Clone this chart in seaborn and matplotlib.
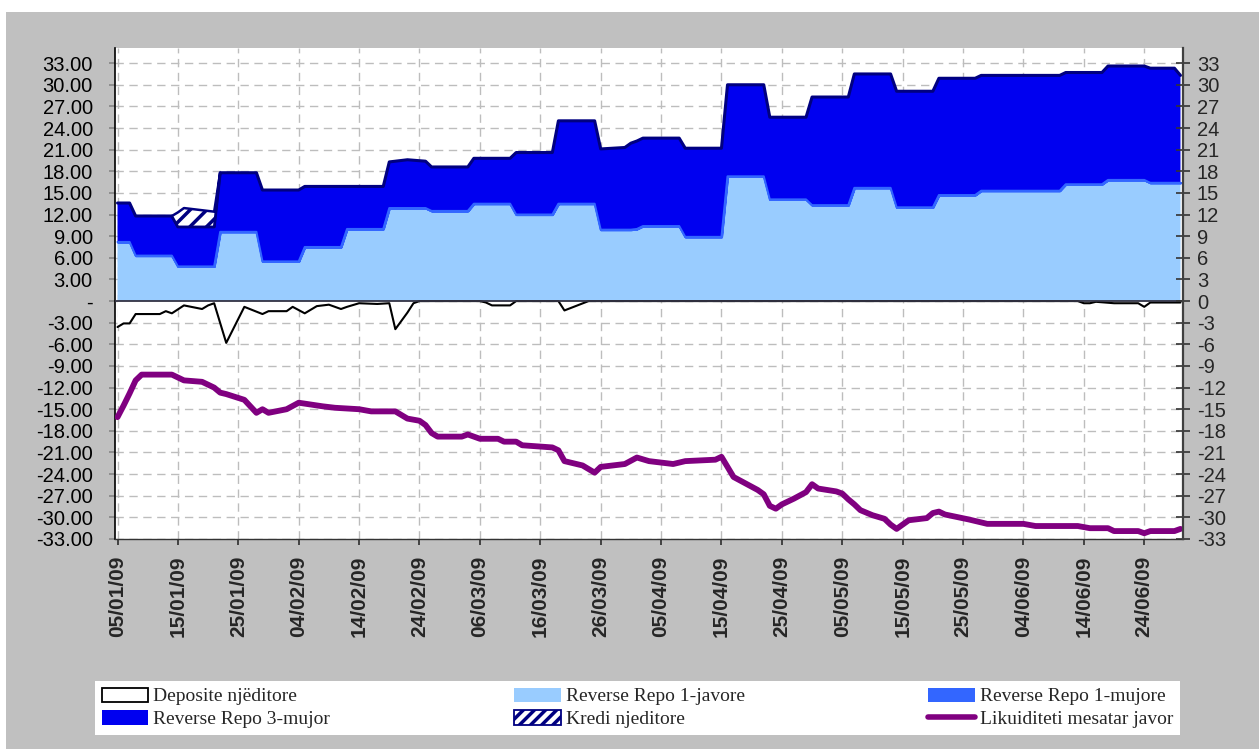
import numpy as np
import pandas as pd
import matplotlib
matplotlib.use("Agg")
import matplotlib.pyplot as plt
import matplotlib.dates as mdates
from matplotlib.patches import Patch, Rectangle
from matplotlib.lines import Line2D
import seaborn as sns

# --- data (billion lek) ---
repo_dates = ["2009-01-05", "2009-01-07", "2009-01-08", "2009-01-14", "2009-01-15", "2009-01-16",
              "2009-01-21", "2009-01-22", "2009-01-28", "2009-01-29", "2009-02-04", "2009-02-05",
              "2009-02-11", "2009-02-12", "2009-02-18", "2009-02-19", "2009-02-22", "2009-02-25",
              "2009-02-26", "2009-03-04", "2009-03-05", "2009-03-11", "2009-03-12", "2009-03-18",
              "2009-03-19", "2009-03-25", "2009-03-26", "2009-03-30", "2009-03-31", "2009-04-01",
              "2009-04-02", "2009-04-08", "2009-04-09", "2009-04-15", "2009-04-16", "2009-04-22",
              "2009-04-23", "2009-04-29", "2009-04-30", "2009-05-06", "2009-05-07", "2009-05-13",
              "2009-05-14", "2009-05-20", "2009-05-21", "2009-05-27", "2009-05-28", "2009-06-10",
              "2009-06-11", "2009-06-17", "2009-06-18", "2009-06-24", "2009-06-25", "2009-06-29",
              "2009-06-30"]
rr_1javore = [8.2, 8.2, 6.3, 6.3, 4.8, 4.8, 4.8, 9.6, 9.6, 5.5, 5.5, 7.5, 7.5, 10.0, 10.0, 12.9,
              12.9, 12.9, 12.5, 12.5, 13.5, 13.5, 12.0, 12.0, 13.5, 13.5, 9.9, 9.9, 9.9, 10.0,
              10.4, 10.4, 8.9, 8.9, 17.3, 17.3, 14.1, 14.1, 13.3, 13.3, 15.7, 15.7, 13.0, 13.0,
              14.7, 14.7, 15.3, 15.3, 16.2, 16.2, 16.8, 16.8, 16.4, 16.4, 16.4]
rr_1mujore = [0.0] * len(repo_dates)
rr_3mujor = [5.4, 5.4, 5.5, 5.5, 5.5, 5.5, 5.5, 8.2, 8.2, 9.9, 9.9, 8.4, 8.4, 5.9, 5.9, 6.4,
             6.7, 6.5, 6.1, 6.1, 6.3, 6.3, 8.6, 8.6, 11.5, 11.5, 11.2, 11.4, 12.0, 12.2,
             12.2, 12.2, 12.3, 12.3, 12.7, 12.7, 11.4, 11.4, 15.0, 15.0, 15.8, 15.8, 16.1, 16.1,
             16.2, 16.2, 16.0, 16.0, 15.5, 15.5, 15.8, 15.8, 15.9, 15.9, 14.9]
kredi = [0, 0, 0, 0, 2.0, 2.6, 2.1] + [0] * (len(repo_dates) - 7)

dep_dates = ["2009-01-05", "2009-01-06", "2009-01-07", "2009-01-08", "2009-01-12", "2009-01-13",
             "2009-01-14", "2009-01-16", "2009-01-19", "2009-01-20", "2009-01-21", "2009-01-23",
             "2009-01-26", "2009-01-29", "2009-01-30", "2009-02-02", "2009-02-03", "2009-02-05",
             "2009-02-07", "2009-02-09", "2009-02-11", "2009-02-12", "2009-02-14", "2009-02-17",
             "2009-02-19", "2009-02-20", "2009-02-22", "2009-02-23", "2009-02-24", "2009-03-06",
             "2009-03-07", "2009-03-08", "2009-03-11", "2009-03-12", "2009-03-19", "2009-03-20",
             "2009-03-24", "2009-06-13", "2009-06-14", "2009-06-15", "2009-06-16", "2009-06-19",
             "2009-06-23", "2009-06-24", "2009-06-25", "2009-06-30"]
deposite = [-3.6, -3.1, -3.1, -1.8, -1.8, -1.4, -1.7, -0.6, -1.1, -0.6, -0.3, -5.8,
            -0.8, -1.8, -1.4, -1.4, -0.8, -1.7, -0.7, -0.5, -1.1, -0.8, -0.3, -0.4,
            -0.3, -3.9, -1.6, -0.3, 0.0, 0.0, -0.2, -0.6, -0.6, 0.0, 0.0, -1.3,
            0.0, 0.0, -0.3, -0.3, -0.1, -0.3, -0.3, -0.8, -0.2, -0.2]

liq_dates = ["2009-01-05", "2009-01-06", "2009-01-07", "2009-01-08", "2009-01-09", "2009-01-14",
             "2009-01-16", "2009-01-19", "2009-01-21", "2009-01-22", "2009-01-23", "2009-01-26",
             "2009-01-28", "2009-01-29", "2009-01-30", "2009-02-02", "2009-02-04", "2009-02-08",
             "2009-02-10", "2009-02-14", "2009-02-16", "2009-02-20", "2009-02-21", "2009-02-22",
             "2009-02-24", "2009-02-25", "2009-02-26", "2009-02-27", "2009-03-03", "2009-03-04",
             "2009-03-06", "2009-03-09", "2009-03-10", "2009-03-12", "2009-03-13", "2009-03-18",
             "2009-03-19", "2009-03-20", "2009-03-23", "2009-03-25", "2009-03-26", "2009-03-30",
             "2009-04-01", "2009-04-03", "2009-04-05", "2009-04-07", "2009-04-09", "2009-04-14",
             "2009-04-15", "2009-04-17", "2009-04-19", "2009-04-21", "2009-04-22", "2009-04-23",
             "2009-04-24", "2009-04-25", "2009-04-27", "2009-04-29", "2009-04-30", "2009-05-01",
             "2009-05-04", "2009-05-05", "2009-05-06", "2009-05-07", "2009-05-08", "2009-05-10",
             "2009-05-12", "2009-05-13", "2009-05-14", "2009-05-16", "2009-05-19", "2009-05-20",
             "2009-05-21", "2009-05-22", "2009-05-26", "2009-05-29", "2009-06-04", "2009-06-06",
             "2009-06-13", "2009-06-15", "2009-06-18", "2009-06-19", "2009-06-23", "2009-06-24",
             "2009-06-25", "2009-06-29", "2009-06-30"]
likuiditeti = [-16.1, -14.5, -12.8, -11.0, -10.2, -10.2, -11.0, -11.2, -12.0, -12.7, -12.9, -13.7,
               -15.5, -15.0, -15.5, -15.0, -14.1, -14.6, -14.8, -15.0, -15.3, -15.3, -15.8, -16.3,
               -16.6, -17.2, -18.3, -18.8, -18.8, -18.5, -19.1, -19.1, -19.5, -19.5, -20.0, -20.3,
               -20.7, -22.2, -22.8, -23.8, -23.0, -22.6, -21.7, -22.2, -22.4, -22.6, -22.2, -22.0,
               -21.6, -24.4, -25.3, -26.2, -26.8, -28.4, -28.8, -28.2, -27.4, -26.5, -25.4, -26.0,
               -26.4, -26.7, -27.5, -28.2, -29.0, -29.7, -30.2, -31.0, -31.6, -30.4, -30.1, -29.4,
               -29.2, -29.6, -30.3, -30.9, -30.9, -31.2, -31.2, -31.5, -31.5, -31.9, -31.9, -32.2,
               -31.9, -31.9, -31.6]

legend_labels = ["Deposite njëditore", "Reverse Repo 1-javore", "Reverse Repo 1-mujore",
                 "Reverse Repo 3-mujor", "Kredi njeditore", "Likuiditeti mesatar javor"]

# --- style ---
sns.set_theme(style="white")
plt.rcParams["font.family"] = ["Liberation Sans", "DejaVu Sans"]
plt.rcParams["hatch.linewidth"] = 2.5
plt.rcParams["hatch.color"] = "#000080"

C_1W = "#99CCFF"
C_1M = "#3366FF"
C_3M = "#0000F0"
C_NAVY = "#000080"
C_LIQ = "#800080"
C_GRID = "#BDBDBD"

repo = pd.DataFrame({"date": pd.to_datetime(repo_dates), "rr1w": rr_1javore,
                     "rr1m": rr_1mujore, "rr3m": rr_3mujor, "kredi": kredi})
repo["top1w"] = repo["rr1w"]
repo["top1m"] = repo["top1w"] + repo["rr1m"]
repo["top3m"] = repo["top1m"] + repo["rr3m"]
repo["topkr"] = repo["top3m"] + repo["kredi"]
dep = pd.DataFrame({"date": pd.to_datetime(dep_dates), "value": deposite})
liq = pd.DataFrame({"date": pd.to_datetime(liq_dates), "value": likuiditeti})

fig = plt.figure(figsize=(12.59, 7.49), dpi=100, facecolor="white")
fig.patches.append(Rectangle((6 / 1259, 0), 1 - 6 / 1259, 1 - 12 / 749, transform=fig.transFigure,
                             facecolor="#C0C0C0", edgecolor="none", zorder=-10))
ax = fig.add_axes([115 / 1259, 1 - 539 / 749, 1068 / 1259, 491 / 749])
ax.set_facecolor("white")

start = pd.Timestamp("2009-01-05")
end = pd.Timestamp("2009-06-30")
ax.set_xlim(start - pd.Timedelta(hours=10), end + pd.Timedelta(hours=10))
ax.set_ylim(-33, 35.1)

# stacked areas
ax.fill_between(repo["date"], 0, repo["top1w"], facecolor=C_1W, edgecolor="none", zorder=2)
ax.fill_between(repo["date"], repo["top1w"], repo["top1m"], facecolor=C_1M,
                edgecolor=C_1M, linewidth=1.5, zorder=3)
ax.fill_between(repo["date"], repo["top1m"], repo["top3m"], facecolor=C_3M,
                edgecolor="none", zorder=3)
sns.lineplot(x=repo["date"], y=repo["top3m"], color=C_NAVY, linewidth=2.2, ax=ax, zorder=4)
sns.lineplot(x=repo["date"], y=repo["top1w"], color=C_1M, linewidth=1.5, ax=ax, zorder=4)
has_kr = (repo["kredi"] > 0) | (repo["kredi"].shift(1) > 0) | (repo["kredi"].shift(-1) > 0)
ax.fill_between(repo["date"], repo["top3m"], repo["topkr"], where=has_kr, facecolor="white",
                edgecolor=C_NAVY, hatch="//", linewidth=1.8, zorder=5)

# deposits (negative side)
ax.fill_between(dep["date"], dep["value"], 0, facecolor="white", edgecolor="none", zorder=2)
sns.lineplot(x=dep["date"], y=dep["value"], color="black", linewidth=1.5, ax=ax, zorder=4)

# average liquidity line
sns.lineplot(x=liq["date"], y=liq["value"], color=C_LIQ, linewidth=4.2, ax=ax, zorder=6)

ax.axhline(0, color="#333344", linewidth=1.3, zorder=7)

# grid
yt = np.arange(-33, 34, 3)
xt = pd.date_range(start, end, freq="10D")
ax.set_yticks(yt)
ax.set_xticks(xt)
ax.grid(True, color=C_GRID, linestyle=(0, (6, 4)), linewidth=1.0)
ax.set_axisbelow(True)

ax.set_yticklabels(["-" if v == 0 else f"{v:.2f}" for v in yt], fontsize=14.5)
ax.xaxis.set_major_formatter(mdates.DateFormatter("%d/%m/%y"))
for lab in ax.get_xticklabels():
    lab.set_rotation(90)
    lab.set_fontweight("bold")
    lab.set_fontsize(15)
ax.tick_params(axis="y", left=True, length=4, color="#888888", pad=12, colors="black")
ax.tick_params(axis="x", bottom=True, length=4, color="#333333", pad=8)
ax.set_xlabel("")
ax.set_ylabel("")
ax.spines["top"].set_visible(False)
ax.spines["left"].set_color("black")
ax.spines["left"].set_linewidth(1.2)
ax.spines["bottom"].set_color("#333333")
ax.spines["bottom"].set_linewidth(1.0)
ax.spines["right"].set_visible(False)

# right axis
ax2 = ax.twinx()
ax2.set_ylim(ax.get_ylim())
ax2.set_yticks(yt)
ax2.set_yticklabels([str(v) for v in yt], fontsize=14.5)
ax2.tick_params(axis="y", right=True, direction="inout", length=10, width=1.2,
                color="#333333", pad=5)
for side in ["top", "left", "bottom"]:
    ax2.spines[side].set_visible(False)
ax2.spines["right"].set_color("#404040")
ax2.spines["right"].set_linewidth(1.6)
ax2.grid(False)

# legend
handles = [
    Patch(facecolor="white", edgecolor="black", linewidth=1.3),
    Patch(facecolor=C_3M, edgecolor="none"),
    Patch(facecolor=C_1W, edgecolor="none"),
    Patch(facecolor="white", edgecolor=C_NAVY, hatch="///", linewidth=1.3),
    Patch(facecolor=C_1M, edgecolor="none"),
    Line2D([0], [0], color=C_LIQ, linewidth=4),
]
labels = [legend_labels[0], legend_labels[3], legend_labels[1], legend_labels[4],
          legend_labels[2], legend_labels[5]]
leg = fig.legend(handles, labels, ncol=3, mode="expand", loc="lower left",
                 bbox_to_anchor=(95 / 1259, 14 / 749, 1085 / 1259, 55 / 749),
                 frameon=True, fancybox=False, framealpha=1, edgecolor="white",
                 prop={"family": ["Liberation Serif", "DejaVu Serif"], "size": 14},
                 handlelength=2.4, handleheight=0.75, handletextpad=0.25,
                 labelspacing=0.25, borderpad=0.35, borderaxespad=0)
leg.get_frame().set_facecolor("white")
leg.get_frame().set_linewidth(0)

fig.savefig("out.png", dpi=100, facecolor=fig.get_facecolor())
